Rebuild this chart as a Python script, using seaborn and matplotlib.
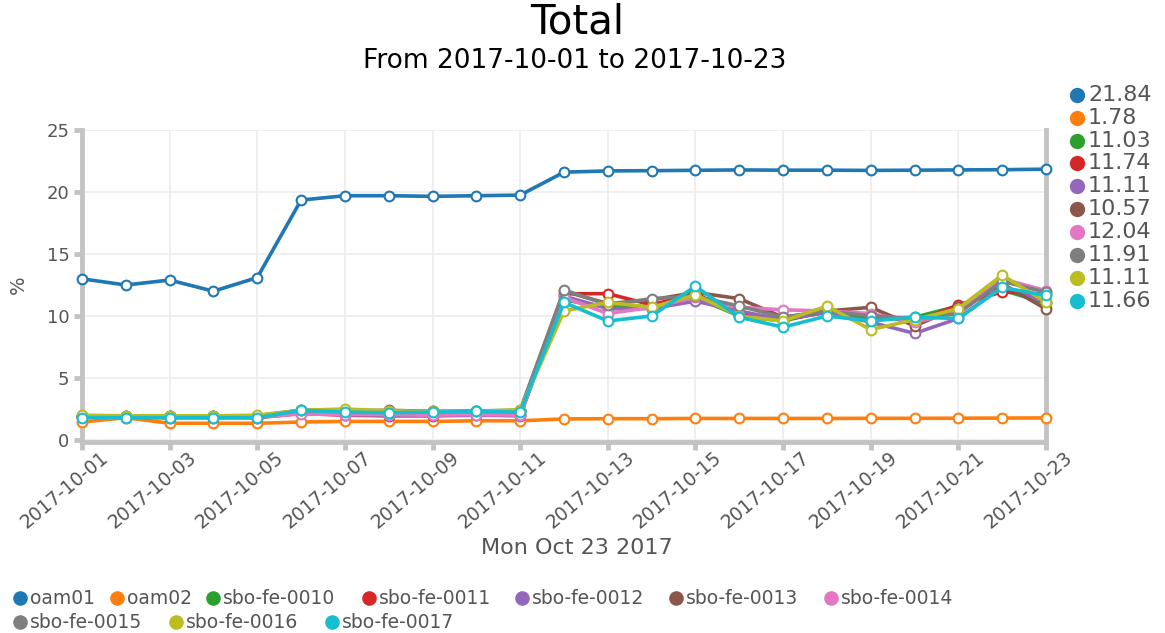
import pandas as pd
import numpy as np
import matplotlib
matplotlib.use('Agg')
import matplotlib.pyplot as plt
import matplotlib.transforms as mtransforms
from matplotlib.lines import Line2D
import seaborn as sns

# ---- data ----
dates = pd.date_range('2017-10-01', '2017-10-23', freq='D')

series_names = ['oam01', 'oam02', 'sbo-fe-0010', 'sbo-fe-0011', 'sbo-fe-0012',
                'sbo-fe-0013', 'sbo-fe-0014', 'sbo-fe-0015', 'sbo-fe-0016', 'sbo-fe-0017']

oam01 = [13.0, 12.5, 12.9, 12.0, 13.1, 19.35, 19.7, 19.7, 19.65, 19.7, 19.75, 21.6,
         21.7, 21.72, 21.75, 21.78, 21.76, 21.76, 21.74, 21.76, 21.78, 21.8, 21.84]
oam02 = [1.45, 1.8, 1.35, 1.35, 1.35, 1.45, 1.5, 1.5, 1.5, 1.55, 1.55, 1.7,
         1.72, 1.72, 1.74, 1.74, 1.74, 1.74, 1.75, 1.75, 1.76, 1.77, 1.78]
sbo_0010 = [1.95, 1.9, 1.9, 1.9, 1.95, 2.35, 2.35, 2.3, 2.25, 2.3, 2.3, 11.3,
            10.7, 10.8, 11.5, 10.0, 9.6, 10.4, 9.8, 9.9, 10.8, 12.1, 11.03]
sbo_0011 = [1.85, 1.85, 1.8, 1.8, 1.8, 2.15, 2.0, 1.95, 1.95, 2.0, 2.0, 11.8,
            11.8, 10.9, 11.8, 10.1, 9.7, 10.3, 10.1, 9.5, 10.9, 11.95, 11.74]
sbo_0012 = [1.9, 1.85, 1.85, 1.85, 1.85, 2.15, 2.05, 2.0, 2.0, 2.0, 1.95, 11.6,
            10.6, 10.6, 11.2, 10.4, 9.7, 10.3, 9.5, 8.6, 9.8, 12.4, 11.11]
sbo_0013 = [1.95, 1.9, 1.9, 1.9, 1.95, 2.4, 2.35, 2.4, 2.3, 2.3, 2.35, 12.0,
            11.0, 11.3, 11.9, 11.4, 9.9, 10.4, 10.7, 9.2, 10.7, 12.6, 10.57]
sbo_0014 = [1.9, 1.85, 1.85, 1.85, 1.85, 2.1, 2.05, 2.05, 2.0, 2.05, 2.0, 11.5,
            10.2, 10.7, 11.5, 10.7, 10.5, 10.4, 10.2, 9.5, 10.3, 13.0, 12.04]
sbo_0015 = [1.95, 1.9, 1.9, 1.9, 1.95, 2.4, 2.3, 2.35, 2.3, 2.35, 2.4, 12.1,
            10.9, 11.4, 11.6, 10.8, 9.9, 10.4, 10.0, 9.8, 10.2, 12.8, 11.91]
sbo_0016 = [2.0, 1.95, 1.95, 1.95, 2.0, 2.4, 2.5, 2.35, 2.3, 2.3, 2.45, 10.4,
            11.1, 10.7, 11.7, 10.0, 9.6, 10.8, 8.9, 9.7, 10.6, 13.3, 11.11]
sbo_0017 = [1.8, 1.8, 1.8, 1.8, 1.8, 2.4, 2.25, 2.2, 2.25, 2.3, 2.25, 11.1,
            9.6, 10.0, 12.4, 9.9, 9.1, 10.0, 9.6, 9.9, 9.8, 12.3, 11.66]

last_values = ['21.84', '1.78', '11.03', '11.74', '11.11', '10.57', '12.04', '11.91', '11.11', '11.66']

all_series = [oam01, oam02, sbo_0010, sbo_0011, sbo_0012,
              sbo_0013, sbo_0014, sbo_0015, sbo_0016, sbo_0017]

df = pd.concat([pd.DataFrame({'date': dates, 'value': v, 'host': n})
                for n, v in zip(series_names, all_series)], ignore_index=True)

# ---- style ----
sns.set_style('white')
plt.rcParams['font.family'] = ['DejaVu Sans']
palette = sns.color_palette('tab10', 10)
spine_c = '#c3c3c3'
text_c = '#555555'

fig = plt.figure(figsize=(11.65, 6.33), dpi=100)
ax = fig.add_axes([82 / 1165, 1 - 442 / 633, 964 / 1165, 312 / 633])

for i, name in enumerate(series_names):
    sub = df[df['host'] == name]
    sns.lineplot(data=sub, x='date', y='value', ax=ax, color=palette[i], lw=2.6,
                 marker='o', markersize=7, markerfacecolor='white',
                 markeredgecolor=palette[i], markeredgewidth=1.5,
                 legend=False, zorder=3 + i)
for ln in ax.lines:
    ln.set_clip_on(False)

ax.set_xlim(dates[0], dates[-1])
ax.set_ylim(-0.16, 25)
ax.set_yticks([0, 5, 10, 15, 20, 25])
ax.set_xticks(dates[::2])
ax.set_xticklabels([d.strftime('%Y-%m-%d') for d in dates[::2]])

ax.grid(True, color='#ececec', lw=1.2)
ax.set_axisbelow(True)
for side in ['left', 'bottom', 'right']:
    ax.spines[side].set_color(spine_c)
    ax.spines[side].set_linewidth(3.5)
ax.spines['top'].set_visible(False)

ax.tick_params(axis='both', bottom=True, left=True, colors=spine_c, width=3.5,
               length=6, labelcolor=text_c)
ax.tick_params(axis='y', labelsize=13, pad=3)
ax.tick_params(axis='x', labelsize=13.5, pad=1)
offset = mtransforms.ScaledTranslation(24 / 100, -3 / 100, fig.dpi_scale_trans)
for lab in ax.get_xticklabels():
    lab.set_rotation(40)
    lab.set_ha('right')
    lab.set_va('center')
    lab.set_rotation_mode('anchor')
    lab.set_transform(lab.get_transform() + offset)

ax.set_xlabel('')
ax.set_ylabel('')
fig.text(577 / 1165, 1 - 548 / 633, 'Mon Oct 23 2017', ha='center', va='center',
         fontsize=16, color=text_c)
fig.text(18 / 1165, 1 - 285 / 633, '%', ha='center', va='center', rotation=90,
         fontsize=14, color=text_c)

# titles
fig.text(577 / 1165, 1 - 23 / 633, 'Total', ha='center', va='center', fontsize=29, color='black')
fig.text(575 / 1165, 1 - 61 / 633, 'From 2017-10-01 to 2017-10-23', ha='center', va='center',
         fontsize=19, color='black')

# right legend with last values
right_rows = [95, 118, 141, 163, 186, 209, 232, 255, 278, 301]
for i, val in enumerate(last_values):
    y = 1 - right_rows[i] / 633
    fig.add_artist(Line2D([1077 / 1165], [y], marker='o', markersize=10, color=palette[i],
                          lw=0, transform=fig.transFigure))
    fig.text(1088 / 1165, y, val, ha='left', va='center', fontsize=16, color=text_c)

# bottom legend with names
bottom_pos = [(20, 598), (117, 598), (213, 598), (369, 598), (522, 598),
              (676, 598), (831, 598), (20, 622), (176, 622), (332, 622)]
for i, name in enumerate(series_names):
    cx, cy = bottom_pos[i]
    y = 1 - cy / 633
    fig.add_artist(Line2D([cx / 1165], [y], marker='o', markersize=9.5, color=palette[i],
                          lw=0, transform=fig.transFigure))
    fig.text((cx + 10) / 1165, y, name, ha='left', va='center', fontsize=13.5, color=text_c)

fig.savefig('out.png', dpi=100)
